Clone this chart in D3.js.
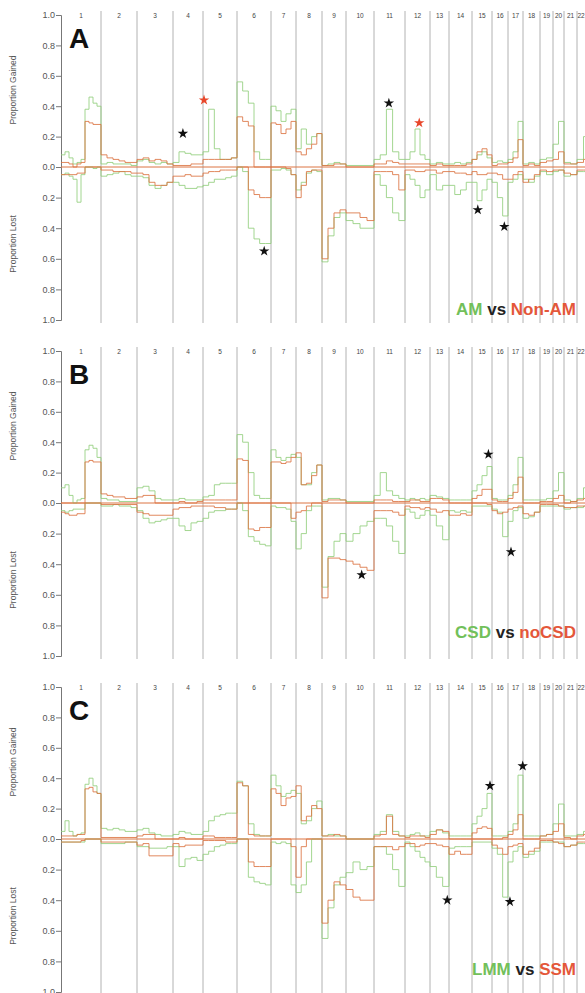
<!DOCTYPE html>
<html lang="en">
    <head>
        <meta charset="utf-8">
        <title>Gains and losses by chromosome</title>

        <!-- d3 library for drawing -->
        <script type="text/javascript" src="https://d3js.org/d3.v7.min.js"></script>

        <style type="text/css">
            body { margin: 0; background: #fff; }
            svg { display: block; font-family: "Liberation Sans", Arial, sans-serif; }
        </style>
    </head>
    <body>
        <script>

        // Chromosome names and their (relative) lengths along the genome axis
        var chromLabels  = ["1","2","3","4","5","6","7","8","9","10","11","12","13","14","15","16","17","18","19","20","21","22"];
        var chromLengths = [40,36,36,30,34,34,25,26,24,28,31,25,19,23,20,16,15,17,13,11,13,13];

        // Tick values for both halves of each panel
        var yTicks = [0, 0.2, 0.4, 0.6, 0.8, 1.0];

        // Panel A : AM (green) vs Non-AM (red). One list of step values per chromosome.
        var amGainGreen = [
            [0.08,0.1,0.06,0.02,0.03,0.05,0.38,0.46,0.42,0.4],[0.02,0.03,0.02,0.02,0.02,0.01],
            [0.04,0.05,0.03,0.02,0.03,0.02],[0.03,0.1,0.09,0.08,0.08],[0.1,0.38,0.12,0.05,0.05,0.06],
            [0.56,0.5,0.42,0.1,0.05,0.05],[0.4,0.37,0.3,0.35,0.38],[0.12,0.25,0.15,0.2,0.22],
            [0.01,0.02,0.03,0.02],[0.01,0.01,0.01,0.01],[0.05,0.08,0.38,0.1,0.05],[0.05,0.1,0.25,0.08,0.05],
            [0.02,0.03,0.02],[0.02,0.03,0.02,0.03],[0.05,0.08,0.1,0.06],[0.03,0.04,0.03],[0.05,0.1,0.3],
            [0.02,0.03,0.02],[0.05,0.06],[0.15,0.3],[0.03,0.02],[0.05,0.2]];
        var amGainRed = [
            [0.03,0.03,0.02,0.0,0.02,0.03,0.3,0.29,0.28,0.28],[0.08,0.06,0.05,0.04,0.03,0.03],
            [0.05,0.06,0.04,0.05,0.04,0.02],[0.01,0.01,0.01,0.02,0.02],[0.05,0.05,0.05,0.05,0.05,0.06],
            [0.33,0.3,0.27,0.0,0.0,0.0],[0.29,0.28,0.22,0.25,0.3],[0.1,0.08,0.12,0.15,0.22],
            [0.01,0.01,0.02,0.02],[0.0,0.0,0.0,0.0],[0.02,0.02,0.04,0.03,0.02],[0.02,0.02,0.02,0.02,0.02],
            [0.01,0.02,0.01],[0.01,0.01,0.01,0.02],[0.05,0.1,0.12,0.08],[0.01,0.02,0.02],[0.03,0.06,0.18],
            [0.01,0.02,0.01],[0.03,0.04],[0.05,0.1],[0.02,0.02],[0.03,0.05]];
        var amLossGreen = [
            [0.05,0.04,0.06,0.08,0.23,0.05,0.0,0.0,0.01,0.0],[0.06,0.05,0.04,0.03,0.05,0.06],
            [0.06,0.07,0.12,0.14,0.12,0.1],[0.1,0.12,0.14,0.14,0.13],[0.12,0.1,0.08,0.08,0.07,0.06],
            [0.0,0.03,0.4,0.47,0.5,0.5],[0.02,0.02,0.01,0.02,0.05],[0.15,0.1,0.04,0.02,0.03],
            [0.62,0.45,0.33,0.3],[0.35,0.37,0.4,0.4],[0.05,0.12,0.2,0.3,0.35],[0.05,0.08,0.12,0.2,0.15],
            [0.05,0.15,0.12],[0.12,0.18,0.15,0.1],[0.1,0.22,0.15,0.08],[0.1,0.2,0.32],[0.1,0.08,0.05],
            [0.08,0.1,0.06],[0.03,0.05],[0.03,0.02],[0.06,0.05],[0.03,0.03]];
        var amLossRed = [
            [0.05,0.05,0.05,0.05,0.04,0.04,0.0,0.0,0.0,0.0],[0.02,0.02,0.03,0.03,0.03,0.04],
            [0.04,0.05,0.1,0.12,0.12,0.1],[0.06,0.06,0.05,0.06,0.06],[0.04,0.03,0.03,0.02,0.02,0.02],
            [0.0,0.0,0.15,0.18,0.2,0.2],[0.0,0.0,0.0,0.01,0.05],[0.2,0.12,0.03,0.02,0.02],
            [0.6,0.4,0.3,0.28],[0.3,0.3,0.33,0.35],[0.03,0.03,0.03,0.05,0.15],[0.02,0.02,0.03,0.03,0.02],
            [0.02,0.04,0.03],[0.03,0.04,0.04,0.05],[0.03,0.05,0.05,0.04],[0.04,0.05,0.08],[0.08,0.05,0.03],
            [0.1,0.08,0.05],[0.02,0.03],[0.02,0.02],[0.04,0.05],[0.02,0.02]];

        // Panel B : CSD (green) vs noCSD (red)
        var csdGainGreen = [
            [0.1,0.12,0.05,0.0,0.02,0.03,0.35,0.38,0.36,0.3],[0.03,0.02,0.02,0.01,0.01,0.01],
            [0.1,0.11,0.08,0.03,0.02,0.02],[0.02,0.03,0.02,0.02,0.02],[0.04,0.05,0.12,0.13,0.13,0.13],
            [0.45,0.4,0.2,0.05,0.03,0.03],[0.35,0.3,0.28,0.3,0.32],[0.3,0.12,0.12,0.2,0.25],
            [0.02,0.03,0.03,0.02],[0.01,0.01,0.01,0.01],[0.05,0.2,0.08,0.05,0.03],[0.02,0.03,0.02,0.03,0.02],
            [0.05,0.04,0.03],[0.02,0.02,0.02,0.02],[0.08,0.12,0.18,0.24],[0.03,0.02,0.02],[0.05,0.12,0.3],
            [0.02,0.02,0.02],[0.02,0.03],[0.08,0.2],[0.02,0.01],[0.03,0.1]];
        var csdGainRed = [
            [0.0,0.0,0.0,0.0,0.0,0.0,0.27,0.28,0.27,0.27],[0.06,0.05,0.04,0.04,0.03,0.03],
            [0.04,0.05,0.05,0.0,0.0,0.0],[0.0,0.01,0.0,0.0,0.01],[0.02,0.02,0.02,0.02,0.02,0.02],
            [0.29,0.28,0.0,0.0,0.0,0.0],[0.27,0.27,0.26,0.27,0.3],[0.33,0.12,0.13,0.18,0.25],
            [0.01,0.02,0.02,0.02],[0.0,0.0,0.0,0.0],[0.02,0.02,0.02,0.01,0.01],[0.01,0.02,0.02,0.01,0.01],
            [0.03,0.03,0.02],[0.0,0.0,0.0,0.0],[0.03,0.05,0.09,0.09],[0.02,0.01,0.01],[0.03,0.07,0.17],
            [0.0,0.0,0.0],[0.01,0.01],[0.03,0.05],[0.0,0.01],[0.02,0.03]];
        var csdLossGreen = [
            [0.05,0.06,0.05,0.04,0.04,0.04,0.0,0.0,0.0,0.0],[0.02,0.02,0.01,0.02,0.02,0.03],
            [0.05,0.1,0.13,0.12,0.11,0.1],[0.1,0.15,0.18,0.13,0.12],[0.1,0.06,0.05,0.05,0.04,0.04],
            [0.0,0.05,0.22,0.25,0.27,0.28],[0.02,0.03,0.03,0.04,0.12],[0.3,0.2,0.05,0.02,0.02],
            [0.55,0.35,0.25,0.2],[0.25,0.2,0.15,0.12],[0.1,0.1,0.15,0.25,0.33],[0.04,0.06,0.1,0.08,0.05],
            [0.08,0.15,0.24],[0.05,0.06,0.05,0.06],[0.02,0.02,0.02,0.02],[0.04,0.06,0.22],[0.12,0.05,0.03],
            [0.1,0.09,0.06],[0.02,0.02],[0.02,0.02],[0.04,0.03],[0.03,0.02]];
        var csdLossRed = [
            [0.06,0.07,0.08,0.08,0.07,0.07,0.0,0.0,0.0,0.0],[0.01,0.01,0.01,0.01,0.01,0.01],
            [0.06,0.07,0.08,0.08,0.08,0.08],[0.04,0.03,0.03,0.02,0.02],[0.02,0.02,0.03,0.03,0.04,0.04],
            [0.0,0.0,0.17,0.18,0.16,0.16],[0.0,0.0,0.0,0.0,0.1],[0.06,0.05,0.02,0.0,0.0],
            [0.62,0.36,0.36,0.37],[0.38,0.4,0.42,0.44],[0.05,0.05,0.05,0.06,0.08],[0.02,0.03,0.03,0.04,0.03],
            [0.04,0.06,0.05],[0.08,0.08,0.07,0.08],[0.0,0.0,0.0,0.01],[0.05,0.07,0.06],[0.04,0.03,0.02],
            [0.07,0.08,0.06],[0.01,0.01],[0.01,0.02],[0.03,0.03],[0.02,0.02]];

        // Panel C : LMM (green) vs SSM (red)
        var lmmGainGreen = [
            [0.05,0.12,0.05,0.02,0.03,0.04,0.36,0.4,0.35,0.3],[0.07,0.06,0.07,0.06,0.05,0.05],
            [0.06,0.07,0.04,0.03,0.02,0.02],[0.03,0.05,0.04,0.03,0.03],[0.05,0.12,0.15,0.16,0.17,0.17],
            [0.38,0.35,0.1,0.03,0.02,0.02],[0.42,0.35,0.28,0.3,0.32],[0.3,0.1,0.12,0.2,0.25],
            [0.02,0.03,0.02,0.02],[0.0,0.0,0.0,0.0],[0.03,0.05,0.16,0.05,0.02],[0.02,0.03,0.04,0.02,0.02],
            [0.05,0.06,0.04],[0.02,0.02,0.02,0.02],[0.1,0.15,0.2,0.3],[0.02,0.02,0.02],[0.05,0.1,0.42],
            [0.02,0.02,0.02],[0.02,0.03],[0.1,0.23],[0.02,0.02],[0.03,0.05]];
        var lmmGainRed = [
            [0.02,0.02,0.02,0.02,0.03,0.03,0.33,0.34,0.31,0.3],[0.01,0.01,0.01,0.01,0.01,0.01],
            [0.02,0.03,0.03,0.0,0.0,0.0],[0.0,0.01,0.0,0.0,0.0],[0.02,0.02,0.01,0.01,0.01,0.01],
            [0.37,0.35,0.03,0.02,0.02,0.02],[0.33,0.3,0.22,0.27,0.28],[0.35,0.12,0.15,0.22,0.2],
            [0.02,0.02,0.03,0.02],[0.0,0.0,0.0,0.0],[0.02,0.03,0.15,0.03,0.02],[0.01,0.02,0.02,0.02,0.01],
            [0.03,0.06,0.05],[0.0,0.0,0.0,0.0],[0.04,0.07,0.08,0.07],[0.0,0.0,0.01],[0.03,0.06,0.16],
            [0.0,0.0,0.0],[0.02,0.03],[0.05,0.1],[0.01,0.0],[0.02,0.03]];
        var lmmLossGreen = [
            [0.02,0.02,0.02,0.02,0.02,0.02,0.0,0.0,0.0,0.0],[0.03,0.03,0.03,0.03,0.02,0.02],
            [0.05,0.05,0.06,0.06,0.06,0.05],[0.05,0.18,0.13,0.12,0.14],[0.1,0.08,0.05,0.04,0.03,0.03],
            [0.0,0.0,0.25,0.28,0.29,0.3],[0.02,0.03,0.02,0.03,0.3],[0.35,0.3,0.15,0.0,0.0],
            [0.65,0.45,0.3,0.25],[0.22,0.15,0.2,0.18],[0.05,0.05,0.1,0.2,0.31],[0.02,0.05,0.08,0.12,0.15],
            [0.18,0.25,0.31],[0.06,0.05,0.05,0.05],[0.02,0.02,0.02,0.02],[0.06,0.1,0.38],[0.15,0.08,0.05],
            [0.12,0.1,0.08],[0.02,0.02],[0.02,0.02],[0.05,0.04],[0.03,0.03]];
        var lmmLossRed = [
            [0.02,0.02,0.02,0.02,0.02,0.01,0.0,0.0,0.0,0.0],[0.02,0.02,0.02,0.02,0.02,0.02],
            [0.04,0.03,0.11,0.11,0.11,0.11],[0.03,0.05,0.04,0.04,0.04],[0.01,0.01,0.01,0.01,0.02,0.02],
            [0.0,0.0,0.15,0.18,0.18,0.18],[0.0,0.0,0.0,0.0,0.05],[0.25,0.05,0.0,0.0,0.0],
            [0.55,0.4,0.28,0.3],[0.33,0.38,0.4,0.4],[0.05,0.05,0.05,0.07,0.05],[0.03,0.03,0.05,0.04,0.03],
            [0.03,0.04,0.05],[0.1,0.08,0.1,0.1],[0.0,0.0,0.0,0.0],[0.04,0.06,0.1],[0.05,0.04,0.03],
            [0.1,0.08,0.06],[0.01,0.01],[0.02,0.03],[0.05,0.04],[0.02,0.02]];

        // Significance stars: [chromosome, position within chromosome (0-1), value, side, colour]
        var amStars  = [[4,0.33,0.22,"gain","black"],[5,0.03,0.44,"gain","red"],[11,0.48,0.42,"gain","black"],
                        [12,0.57,0.29,"gain","red"],[6,0.80,0.55,"loss","black"],[15,0.29,0.28,"loss","black"],
                        [16,0.77,0.39,"loss","black"]];
        var csdStars = [[15,0.82,0.32,"gain","black"],[10,0.56,0.47,"loss","black"],[17,0.20,0.32,"loss","black"]];
        var lmmStars = [[15,0.90,0.35,"gain","black"],[17,0.98,0.48,"gain","black"],[13,0.91,0.40,"loss","black"],
                        [17,0.13,0.41,"loss","black"]];

        // Panel letters and legend words (green group, red group)
        var panelLetters = ["A", "B", "C"];
        var legendGreen  = ["AM", "CSD", "LMM"];
        var legendRed    = ["Non-AM", "noCSD", "SSM"];

        // ---------------------------------------------------------------

        var w = 585, h = 993;
        var green = "#93cf7e", red = "#dc7443", lineGrey = "#a0a0a0", textGrey = "#555";

        var panels = [
            { gainG: amGainGreen,  gainR: amGainRed,  lossG: amLossGreen,  lossR: amLossRed,  stars: amStars,  top: 15,  legendDy: 300 },
            { gainG: csdGainGreen, gainR: csdGainRed, lossG: csdLossGreen, lossR: csdLossRed, stars: csdStars, top: 351, legendDy: 287 },
            { gainG: lmmGainGreen, gainR: lmmGainRed, lossG: lmmLossGreen, lossR: lmmLossRed, stars: lmmStars, top: 687, legendDy: 288 }
        ];
        var gainH = 152, lossH = 153;

        // cumulative chromosome starts
        var chromStart = [];
        var total = 0;
        chromLengths.forEach(function(L) { chromStart.push(total); total += L; });

        var x = d3.scaleLinear().domain([0, total]).range([61, 590]);

        var svg = d3.select("body").append("svg")
                    .attr("width", w)
                    .attr("height", h);

        // turn per-chromosome step values into [position, value] points
        function stepPoints(series) {
            var pts = [];
            series.forEach(function(vals, c) {
                var s = chromStart[c], L = chromLengths[c];
                vals.forEach(function(v, k) { pts.push([s + k * L / vals.length, v]); });
            });
            pts.push([total, pts[pts.length - 1][1]]);
            return pts;
        }

        panels.forEach(function(p, i) {
            var zero = p.top + gainH;
            var yGain = d3.scaleLinear().domain([0, 1]).range([zero, p.top]);
            var yLoss = d3.scaleLinear().domain([0, 1]).range([zero, zero + lossH]);

            var g = svg.append("g");

            // chromosome separators
            g.selectAll(".sep")
             .data(chromStart.slice(1))
             .enter().append("line")
             .attr("x1", function(d) { return x(d); })
             .attr("x2", function(d) { return x(d); })
             .attr("y1", p.top - 4)
             .attr("y2", zero + lossH + 3)
             .style("stroke", lineGrey)
             .style("stroke-width", 0.8);

            // chromosome labels (the last one runs off the right edge, as in the original)
            g.selectAll(".chr")
             .data(chromLabels)
             .enter().append("text")
             .attr("x", function(d, c) { return Math.min(x(chromStart[c] + chromLengths[c] / 2), 581); })
             .attr("y", p.top + 2.5)
             .attr("text-anchor", "middle")
             .style("font-size", "6.5px")
             .style("fill", "#444")
             .text(function(d) { return d; });

            // left axes: gained (up) and lost (down)
            var axisGain = d3.axisLeft(yGain).tickValues(yTicks).tickSize(5).tickFormat(d3.format(".1f"));
            var axisLoss = d3.axisLeft(yLoss).tickValues(yTicks.slice(1)).tickSize(5).tickFormat(d3.format(".1f"));
            [axisGain, axisLoss].forEach(function(ax) {
                var a = g.append("g").attr("transform", "translate(61,0)").call(ax);
                a.select(".domain").style("stroke", "#777").style("stroke-width", 1);
                a.selectAll(".tick line").style("stroke", "#777");
                a.selectAll(".tick text").style("font-size", "9px").style("fill", textGrey)
                 .style("font-family", "'Liberation Sans', Arial, sans-serif").attr("x", -6);
            });

            // axis titles
            g.append("text")
             .attr("transform", "translate(16," + (zero - 77) + ") rotate(-90)")
             .attr("text-anchor", "middle")
             .style("font-size", "8.5px").style("fill", textGrey)
             .text("Proportion Gained");
            g.append("text")
             .attr("transform", "translate(16," + (zero + 77) + ") rotate(-90)")
             .attr("text-anchor", "middle")
             .style("font-size", "8.5px").style("fill", textGrey)
             .text("Proportion Lost");

            // zero line
            g.append("line")
             .attr("x1", x(0)).attr("x2", x(total))
             .attr("y1", zero).attr("y2", zero)
             .style("stroke", red).style("stroke-width", 1);

            // step lines
            var series = [
                [p.lossG, yLoss, green], [p.gainG, yGain, green],
                [p.lossR, yLoss, red],   [p.gainR, yGain, red]
            ];
            series.forEach(function(s) {
                var line = d3.line()
                             .x(function(d) { return x(d[0]); })
                             .y(function(d) { return s[1](d[1]); })
                             .curve(d3.curveStepAfter);
                g.append("path")
                 .attr("d", line(stepPoints(s[0])))
                 .style("fill", "none")
                 .style("stroke", s[2])
                 .style("stroke-opacity", 0.85)
                 .style("stroke-width", 1);
            });

            // stars
            g.selectAll(".star")
             .data(p.stars)
             .enter().append("path")
             .attr("d", d3.symbol().type(d3.symbolStar).size(34))
             .attr("transform", function(d) {
                 var px = x(chromStart[d[0] - 1] + d[1] * chromLengths[d[0] - 1]);
                 var py = d[3] === "gain" ? yGain(d[2]) : yLoss(d[2]);
                 return "translate(" + px + "," + py + ")";
             })
             .style("fill", function(d) { return d[4] === "red" ? "#e8472b" : "#111"; });

            // panel letter
            g.append("text")
             .attr("x", 69).attr("y", p.top + 33)
             .style("font-size", "28px").style("font-weight", "bold").style("fill", "#111")
             .text(panelLetters[i]);

            // legend
            var leg = g.append("text")
                       .attr("x", 576).attr("y", p.top + p.legendDy)
                       .attr("text-anchor", "end")
                       .style("font-size", "17px").style("font-weight", "bold");
            leg.append("tspan").style("fill", "#72c05a").text(legendGreen[i]);
            leg.append("tspan").style("fill", "#222").text(" vs ");
            leg.append("tspan").style("fill", "#e4573a").text(legendRed[i]);
        });

        </script>
    </body>
</html>
